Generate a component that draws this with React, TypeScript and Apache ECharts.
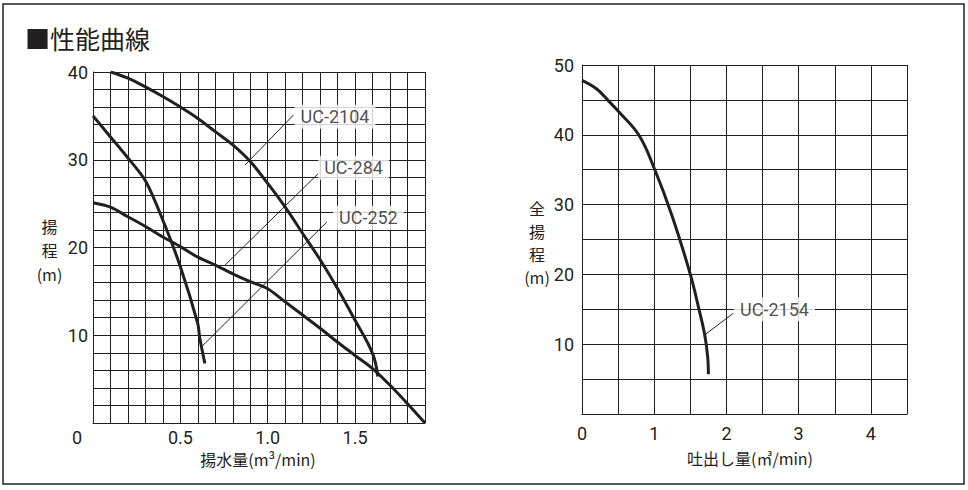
import React, { useEffect, useRef } from "react";
import * as echarts from "echarts";

// ---- Data ----
// Left chart: 揚水量 (m³/min) vs 揚程 (m)
const uc2104: [number, number][] = [
  [0.1, 40], [0.2, 39.3], [0.3, 38.3], [0.4, 37.2], [0.5, 36], [0.6, 34.7],
  [0.7, 33.2], [0.8, 31.7], [0.9, 29.8], [1.0, 27.3], [1.1, 24.6], [1.2, 21.6],
  [1.3, 18.6], [1.4, 15.3], [1.5, 11.7], [1.6, 7.9], [1.63, 5.3],
];
const uc284: [number, number][] = [
  [0, 25.1], [0.1, 24.6], [0.2, 23.5], [0.3, 22.4], [0.4, 21.2], [0.5, 20.1],
  [0.6, 18.9], [0.7, 18.0], [0.8, 17.0], [0.9, 16.1], [1.0, 15.3], [1.1, 13.8],
  [1.2, 12.3], [1.3, 10.8], [1.4, 9.2], [1.5, 7.7], [1.6, 6.2], [1.7, 4.3],
  [1.8, 2.2], [1.9, 0],
];
const uc252: [number, number][] = [
  [0, 35], [0.1, 32.6], [0.2, 30.2], [0.3, 27.6], [0.4, 23.1], [0.5, 17.8],
  [0.6, 11.3], [0.61, 9.8], [0.64, 6.8],
];
// Right chart: 吐出し量 (㎥/min) vs 全揚程 (m)
const uc2154: [number, number][] = [
  [0, 47.8], [0.2, 46.6], [0.355, 45.0], [0.5, 43.4], [0.785, 40.0], [1.0, 35.2],
  [1.25, 28.3], [1.5, 20.0], [1.62, 15.0], [1.7, 11.3], [1.74, 8.2], [1.75, 5.7],
];

const leftNames = ["UC-2104", "UC-284", "UC-252"];
const rightNames = ["UC-2154"];

// annotation leaders (data units): from curve point to label
const leftLeaders: [number, number][][] = [
  [[0.87, 29.4], [1.147, 35.1]],
  [[0.756, 18.0], [1.29, 28.45]],
  [[0.622, 8.7], [1.338, 22.9]],
];
const leftLabelAt: [number, number][] = [
  [1.385, 34.9],
  [1.491, 29.1],
  [1.576, 23.4],
];
const rightLeaders: [number, number][][] = [[[1.694, 11.3], [2.096, 14.44]]];
const rightLabelAt: [number, number][] = [[2.665, 15.0]];

const INK = "#231f20";
const NUM_FONT = "Roboto, 'Liberation Sans', sans-serif";
const JP_FONT = "'Noto Sans CJK JP', 'Noto Sans', sans-serif";

function curve(data: [number, number][], gi: number, smooth: number) {
  return {
    type: "line",
    xAxisIndex: gi,
    yAxisIndex: gi,
    data,
    smooth,
    symbol: "none",
    lineStyle: { color: INK, width: 3 },
    z: 4,
    silent: true,
  };
}
function leader(data: [number, number][], gi: number) {
  return {
    type: "line",
    xAxisIndex: gi,
    yAxisIndex: gi,
    data,
    symbol: "none",
    lineStyle: { color: INK, width: 1 },
    z: 3,
    silent: true,
  };
}
function tag(pos: [number, number], name: string, gi: number) {
  return {
    type: "scatter",
    xAxisIndex: gi,
    yAxisIndex: gi,
    data: [{ value: pos, name }],
    symbolSize: 1,
    itemStyle: { color: "rgba(0,0,0,0)" },
    label: {
      show: true,
      position: "inside",
      formatter: "{b}",
      backgroundColor: "#fff",
      padding: [3, 6],
      fontSize: 18,
      fontFamily: NUM_FONT,
      color: INK,
    },
    z: 6,
    silent: true,
  };
}

const gridLine = { show: true, lineStyle: { color: INK, width: 1 } };
const numLabel = { fontSize: 18, fontFamily: NUM_FONT, color: INK };

export default function App() {
  const ref = useRef<HTMLDivElement>(null);
  useEffect(() => {
    if (!ref.current) return;
    const chart = echarts.init(ref.current, undefined, { renderer: "svg" });
    const series: any[] = [
      curve(uc2104, 0, 0.4),
      curve(uc284, 0, 0.3),
      curve(uc252, 0, 0.3),
      curve(uc2154, 1, 0.4),
    ];
    leftLeaders.forEach((l) => series.push(leader(l, 0)));
    rightLeaders.forEach((l) => series.push(leader(l, 1)));
    leftNames.forEach((n, i) => series.push(tag(leftLabelAt[i], n, 0)));
    rightNames.forEach((n, i) => series.push(tag(rightLabelAt[i], n, 1)));

    const jp = (text: string, x: number, y: number, size = 17, lineHeight?: number) => ({
      type: "text",
      x,
      y,
      style: {
        text,
        fontSize: size,
        fontFamily: JP_FONT,
        fill: INK,
        align: "center",
        verticalAlign: "middle",
        ...(lineHeight ? { lineHeight } : {}),
      },
      silent: true,
    });

    chart.setOption({
      animation: false,
      backgroundColor: "#fff",
      grid: [
        { left: 93, top: 72, width: 332, height: 351 },
        { left: 582, top: 65, width: 325, height: 349 },
      ],
      xAxis: [
        {
          gridIndex: 0,
          type: "value",
          min: 0,
          max: 1.9,
          interval: 0.1,
          axisLine: { show: true, lineStyle: { color: INK, width: 1 } },
          axisTick: { show: false },
          splitLine: gridLine,
          axisLabel: {
            ...numLabel,
            margin: 5,
            formatter: (v: number) => {
              const t = Math.round(v * 10);
              return t > 0 && t % 5 === 0 ? (t / 10).toFixed(1) : "";
            },
          },
        },
        {
          gridIndex: 1,
          type: "value",
          min: 0,
          max: 4.5,
          interval: 0.5,
          axisLine: { show: true, lineStyle: { color: INK, width: 1 } },
          axisTick: { show: false },
          splitLine: gridLine,
          axisLabel: {
            ...numLabel,
            margin: 10,
            formatter: (v: number) => (Number.isInteger(v) && v < 4.5 ? String(v) : ""),
          },
        },
      ],
      yAxis: [
        {
          gridIndex: 0,
          type: "value",
          min: 0,
          max: 40,
          interval: 2,
          axisLine: { show: true, lineStyle: { color: INK, width: 1 } },
          axisTick: { show: false },
          splitLine: gridLine,
          axisLabel: {
            ...numLabel,
            margin: 5,
            formatter: (v: number) => (v > 0 && v % 10 === 0 ? String(v) : ""),
          },
        },
        {
          gridIndex: 1,
          type: "value",
          min: 0,
          max: 50,
          interval: 5,
          axisLine: { show: true, lineStyle: { color: INK, width: 1 } },
          axisTick: { show: false },
          splitLine: gridLine,
          axisLabel: {
            ...numLabel,
            margin: 8,
            formatter: (v: number) => (v > 0 && v % 10 === 0 ? String(v) : ""),
          },
        },
      ],
      graphic: [
        {
          type: "rect",
          shape: { x: 3, y: 4, width: 961, height: 480 },
          style: { fill: "none", stroke: INK, lineWidth: 1.5 },
          silent: true,
        },
        {
          type: "text",
          x: 25,
          y: 38,
          style: {
            text: "■性能曲線",
            fontSize: 25,
            fontFamily: JP_FONT,
            fill: INK,
            align: "left",
            verticalAlign: "middle",
          },
          silent: true,
        },
        {
          type: "text",
          x: 77,
          y: 437,
          style: {
            text: "0",
            fontSize: 18,
            fontFamily: NUM_FONT,
            fill: INK,
            align: "center",
            verticalAlign: "middle",
          },
          silent: true,
        },
        jp("揚\n程\n(m)", 49.5, 250, 16, 24),
        jp("全\n揚\n程\n(m)", 537, 242, 16, 23),
        jp("揚水量(m³/min)", 258, 459, 16),
        jp("吐出し量(㎥/min)", 750, 458, 16),
      ],
      series,
    });
    return () => chart.dispose();
  }, []);
  return (
    <div
      ref={ref}
      style={{ position: "fixed", left: 0, top: 0, width: 968, height: 490, background: "#fff" }}
    />
  );
}
